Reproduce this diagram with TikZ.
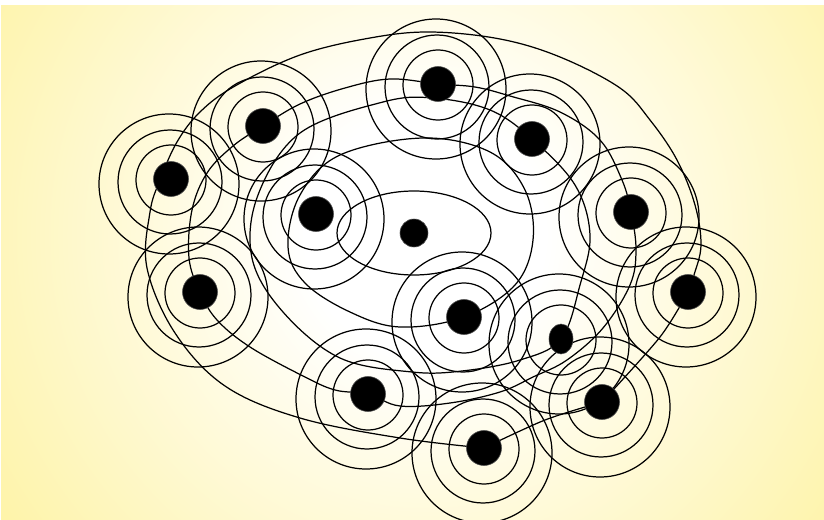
\documentclass[tikz,border=0pt]{standalone}
\usetikzlibrary{calc,shapes.geometric}
\definecolor{bgyellow}{RGB}{254,243,165}
\pgfdeclareradialshading{bgglow}{\pgfpoint{0bp}{0bp}}{color(0bp)=(white); color(5bp)=(white); color(22bp)=(bgyellow); color(50bp)=(bgyellow)}

\begin{document}
\begin{tikzpicture}[
  x=0.3mm, y=-0.3mm,
  dot/.style   = {circle, fill=black, draw=black!70, line width=0.5pt, minimum size=10.5mm, inner sep=0pt},
  ring/.style  = {draw=black, line width=1.05pt},
  orbit/.style = {draw=black, line width=1.05pt}
]

% ---------- background ------------------------------------------------
\useasboundingbox (0,0) rectangle (824,520);
\fill[white] (0,0) rectangle (824,520);
\begin{scope}
  \clip (1,6) rectangle (824,519);
  \fill[bgyellow] (1,6) rectangle (824,519);
  \shade[shading=bgglow] (425,235) circle[radius=600];
\end{scope}

% ---------- dot centres -----------------------------------------------
\foreach \n/\x/\y in {1/171/179, 2/263/126, 3/438/84, 4/532/139, 5/631/212,
                      6/688/292, 7/602/402, 8/484/448, 9/368/394, 10/200/292,
                      11/316/214, 12/464/317, 13/561/339, 14/414/233}{
  \coordinate (c\n) at (\x,\y);}

% ---------- rings -----------------------------------------------------
\foreach \n in {1,...,13}{
  \draw[ring] ($(c\n)+(0,1)$)  circle[radius=35];
  \draw[ring] ($(c\n)+(-1,3)$) circle[radius=52];
  \draw[ring] ($(c\n)+(-2,5)$) circle[radius=70];}

% ---------- orbits ----------------------------------------------------
% outer loop
\draw[orbit] plot[smooth, tension=0.6] coordinates {(c8) (400,438) (300,418) (225,386)
  (175,333) (147,268) (150,212) (160,180) (177,142) (200,112) (235,86) (300,55) (370,38)
  (430,32) (500,39) (560,57) (620,88) (650,120) (677,160) (695,205) (701,245) (694,275) (c6)};
\draw[orbit] plot[smooth] coordinates {(c6) (660,337) (c7)};
\draw[orbit] plot[smooth] coordinates {(c7) (545,420) (c8)};

% second loop
\draw[orbit] plot[smooth cycle, tension=0.6] coordinates {(c2) (300,104) (345,88) (390,79)
  (c3) (475,87) (510,96) (560,112) (600,140) (622,180) (c5) (636,250) (630,285) (603,328)
  (567,360) (533,377) (500,392) (450,403) (400,406) (c9) (335,390) (303,376) (250,347)
  (217,320) (c10) (189,258) (192,210) (207,173) (233,146)};

% third loop
\draw[orbit] plot[smooth cycle, tension=0.6] coordinates {(c4) (575,185) (590,235) (580,285)
  (c13) (520,360) (462,371) (412,372) (340,358) (283,312) (252,258) (258,195) (300,133)
  (383,102) (433,98) (490,110)};

% fourth loop
\draw[orbit] plot[smooth cycle, tension=0.6] coordinates {(288,247) (300,195) (340,155)
  (423,138) (490,152) (525,190) (533,240) (515,285) (c12) (400,327) (350,312) (305,283)};

% inner ellipse
\draw[orbit] (c14) ellipse[x radius=77, y radius=42];

% ---------- dots ------------------------------------------------------
\foreach \n in {1,...,12}{\node[dot] (d\n) at (c\n) {};}
\node[dot, ellipse, minimum width=7.2mm, minimum height=9mm] (d13) at (c13) {};
\node[dot, minimum size=8.4mm] (d14) at (c14) {};

\end{tikzpicture}
\end{document}
